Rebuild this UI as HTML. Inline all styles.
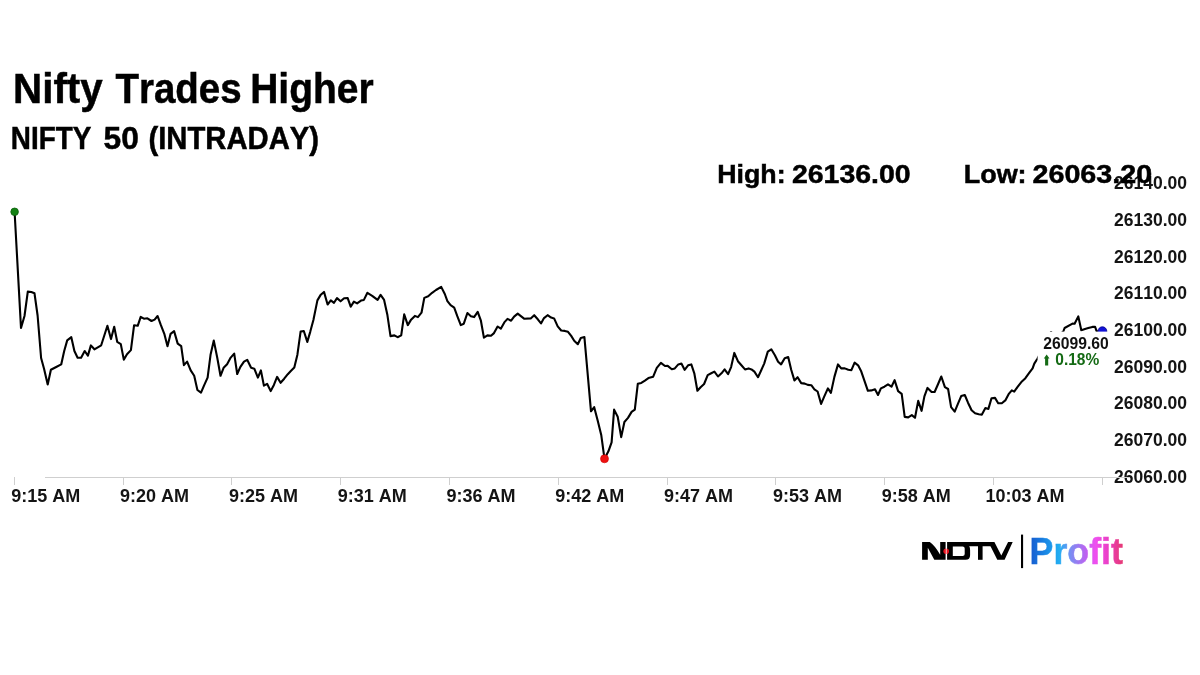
<!DOCTYPE html>
<html><head><meta charset="utf-8"><title>Nifty Trades Higher</title>
<style>html,body{margin:0;padding:0;background:#fff;width:1200px;height:675px;overflow:hidden;font-family:"Liberation Sans",sans-serif}svg{display:block;will-change:transform}text{font-kerning:none}</style>
</head><body>
<svg width="1200" height="675" viewBox="0 0 1200 675">
<rect width="1200" height="675" fill="#fff"/>
<text x="13.1" y="103.2" font-family="Liberation Sans" font-weight="bold" font-size="42" fill="#000" stroke="#000" stroke-width="0.5" textLength="89.61" lengthAdjust="spacingAndGlyphs">Nifty</text>
<text x="115.47" y="103.2" font-family="Liberation Sans" font-weight="bold" font-size="42" fill="#000" stroke="#000" stroke-width="0.5" textLength="126.11" lengthAdjust="spacingAndGlyphs">Trades</text>
<text x="250.19" y="103.2" font-family="Liberation Sans" font-weight="bold" font-size="42" fill="#000" stroke="#000" stroke-width="0.5" textLength="123.4" lengthAdjust="spacingAndGlyphs">Higher</text>
<text x="10.84" y="149" font-family="Liberation Sans" font-weight="bold" font-size="31.3" fill="#000" stroke="#000" stroke-width="0.5" textLength="80.41" lengthAdjust="spacingAndGlyphs">NIFTY</text>
<text x="103.52" y="149" font-family="Liberation Sans" font-weight="bold" font-size="31.3" fill="#000" stroke="#000" stroke-width="0.5" textLength="35.28" lengthAdjust="spacingAndGlyphs">50</text>
<text x="148.44" y="149" font-family="Liberation Sans" font-weight="bold" font-size="31.3" fill="#000" stroke="#000" stroke-width="0.5" textLength="170.61" lengthAdjust="spacingAndGlyphs">(INTRADAY)</text>
<text x="717.21" y="182.9" font-family="Liberation Sans" font-weight="bold" font-size="26.7" fill="#000" stroke="#000" stroke-width="0.5" textLength="68.36" lengthAdjust="spacingAndGlyphs">High:</text>
<text x="792.01" y="182.9" font-family="Liberation Sans" font-weight="bold" font-size="26.7" fill="#000" stroke="#000" stroke-width="0.5" textLength="118.55" lengthAdjust="spacingAndGlyphs">26136.00</text>
<line x1="14.5" y1="477" x2="14.5" y2="485" stroke="#cfcfcf" stroke-width="1"/>
<line x1="123.5" y1="477" x2="123.5" y2="485" stroke="#cfcfcf" stroke-width="1"/>
<line x1="231.5" y1="477" x2="231.5" y2="485" stroke="#cfcfcf" stroke-width="1"/>
<line x1="340.5" y1="477" x2="340.5" y2="485" stroke="#cfcfcf" stroke-width="1"/>
<line x1="449.5" y1="477" x2="449.5" y2="485" stroke="#cfcfcf" stroke-width="1"/>
<line x1="558.5" y1="477" x2="558.5" y2="485" stroke="#cfcfcf" stroke-width="1"/>
<line x1="667.5" y1="477" x2="667.5" y2="485" stroke="#cfcfcf" stroke-width="1"/>
<line x1="775.5" y1="477" x2="775.5" y2="485" stroke="#cfcfcf" stroke-width="1"/>
<line x1="884.5" y1="477" x2="884.5" y2="485" stroke="#cfcfcf" stroke-width="1"/>
<line x1="993.5" y1="477" x2="993.5" y2="485" stroke="#cfcfcf" stroke-width="1"/>
<line x1="1102.5" y1="477" x2="1102.5" y2="485" stroke="#cfcfcf" stroke-width="1"/>
<text x="45.8" text-anchor="middle" y="501.7" font-family="Liberation Sans" font-weight="bold" font-size="18" fill="#141414">9:15 AM</text>
<text x="154.6" text-anchor="middle" y="501.7" font-family="Liberation Sans" font-weight="bold" font-size="18" fill="#141414">9:20 AM</text>
<text x="263.4" text-anchor="middle" y="501.7" font-family="Liberation Sans" font-weight="bold" font-size="18" fill="#141414">9:25 AM</text>
<text x="372.2" text-anchor="middle" y="501.7" font-family="Liberation Sans" font-weight="bold" font-size="18" fill="#141414">9:31 AM</text>
<text x="481.0" text-anchor="middle" y="501.7" font-family="Liberation Sans" font-weight="bold" font-size="18" fill="#141414">9:36 AM</text>
<text x="589.8" text-anchor="middle" y="501.7" font-family="Liberation Sans" font-weight="bold" font-size="18" fill="#141414">9:42 AM</text>
<text x="698.6" text-anchor="middle" y="501.7" font-family="Liberation Sans" font-weight="bold" font-size="18" fill="#141414">9:47 AM</text>
<text x="807.4" text-anchor="middle" y="501.7" font-family="Liberation Sans" font-weight="bold" font-size="18" fill="#141414">9:53 AM</text>
<text x="916.2" text-anchor="middle" y="501.7" font-family="Liberation Sans" font-weight="bold" font-size="18" fill="#141414">9:58 AM</text>
<text x="1025.0" text-anchor="middle" y="501.7" font-family="Liberation Sans" font-weight="bold" font-size="18" fill="#141414">10:03 AM</text>
<text x="1187" y="189.3" text-anchor="end" font-family="Liberation Sans" font-weight="bold" font-size="17.5" fill="#141414">26140.00</text>
<text x="1187" y="226.3" text-anchor="end" font-family="Liberation Sans" font-weight="bold" font-size="17.5" fill="#141414">26130.00</text>
<text x="1187" y="262.8" text-anchor="end" font-family="Liberation Sans" font-weight="bold" font-size="17.5" fill="#141414">26120.00</text>
<text x="1187" y="299.3" text-anchor="end" font-family="Liberation Sans" font-weight="bold" font-size="17.5" fill="#141414">26110.00</text>
<text x="1187" y="336.1" text-anchor="end" font-family="Liberation Sans" font-weight="bold" font-size="17.5" fill="#141414">26100.00</text>
<text x="1187" y="372.8" text-anchor="end" font-family="Liberation Sans" font-weight="bold" font-size="17.5" fill="#141414">26090.00</text>
<text x="1187" y="409.3" text-anchor="end" font-family="Liberation Sans" font-weight="bold" font-size="17.5" fill="#141414">26080.00</text>
<text x="1187" y="445.8" text-anchor="end" font-family="Liberation Sans" font-weight="bold" font-size="17.5" fill="#141414">26070.00</text>
<text x="1187" y="482.8" text-anchor="end" font-family="Liberation Sans" font-weight="bold" font-size="17.5" fill="#141414">26060.00</text>
<text x="963.7" y="183" font-family="Liberation Sans" font-weight="bold" font-size="26.7" fill="#000" stroke="#000" stroke-width="0.5" textLength="62.9" lengthAdjust="spacingAndGlyphs">Low:</text>
<text x="1032.51" y="183" font-family="Liberation Sans" font-weight="bold" font-size="26.7" fill="#000" stroke="#000" stroke-width="0.5" textLength="119.67" lengthAdjust="spacingAndGlyphs">26063.20</text>
<line x1="45" y1="477.5" x2="1130" y2="477.5" stroke="#cfcfcf" stroke-width="1"/>
<path d="M14.6,212.0 L21.0,328.0 L24.5,316.0 L27.8,291.6 L31.3,292.0 L34.5,293.3 L37.6,315.5 L41.1,358.0 L44.1,369.0 L47.7,384.5 L50.9,369.8 L56.2,367.0 L61.2,364.4 L64.2,351.0 L67.2,340.4 L71.3,337.2 L74.4,351.0 L77.6,357.7 L81.1,357.7 L84.7,351.0 L87.9,355.6 L90.9,345.4 L94.4,349.3 L101.2,345.3 L107.4,325.8 L111.0,339.1 L114.2,326.7 L117.2,341.8 L120.8,344.1 L123.8,359.6 L127.0,354.2 L130.9,350.1 L134.1,325.2 L137.7,325.8 L140.7,316.9 L143.9,318.7 L147.4,318.3 L151.5,321.0 L154.6,319.6 L157.6,316.0 L160.8,324.9 L164.3,333.8 L167.5,346.2 L170.6,333.8 L174.1,331.1 L177.7,343.6 L181.2,346.2 L183.9,365.1 L187.1,361.6 L190.7,370.4 L194.2,375.8 L197.4,390.0 L201.0,392.7 L204.0,385.6 L207.6,377.6 L210.6,354.4 L213.8,340.6 L217.3,358.0 L220.5,375.8 L223.6,367.8 L227.1,364.2 L230.7,357.6 L234.2,353.6 L237.2,374.0 L240.4,366.9 L244.0,361.6 L247.2,359.8 L251.1,367.8 L254.3,368.7 L257.9,377.6 L260.9,370.4 L263.9,385.6 L267.1,383.8 L270.7,391.1 L273.9,384.9 L277.1,376.9 L280.6,382.8 L284.2,378.7 L287.8,374.2 L290.8,371.0 L294.3,367.5 L297.4,354.7 L300.6,331.6 L303.8,331.0 L307.3,341.9 L310.3,331.6 L313.4,320.0 L317.4,300.4 L320.5,295.1 L324.0,291.9 L327.6,304.5 L330.8,300.4 L334.0,302.8 L337.0,298.1 L340.6,301.3 L344.1,298.3 L347.7,298.1 L350.7,306.7 L353.9,301.6 L357.1,303.4 L361.0,300.6 L363.9,299.9 L367.4,292.8 L372.2,295.8 L377.6,299.9 L380.6,294.9 L384.1,299.9 L387.3,314.4 L390.5,336.1 L394.4,335.4 L397.6,337.2 L401.2,335.4 L404.2,314.4 L407.8,325.1 L410.8,320.1 L414.9,315.9 L417.9,317.1 L421.5,312.7 L424.3,297.9 L428.2,296.3 L432.1,292.8 L436.0,290.0 L441.2,286.9 L444.8,294.0 L447.4,301.1 L450.6,305.2 L454.2,307.7 L457.2,315.9 L460.8,325.1 L463.8,323.7 L467.4,313.0 L470.9,316.2 L474.1,317.1 L477.7,311.8 L480.9,320.7 L483.9,337.6 L487.4,335.4 L491.0,335.8 L494.0,333.1 L497.6,326.5 L500.8,328.7 L504.3,322.4 L507.5,318.9 L511.1,320.7 L514.1,316.6 L517.7,313.6 L524.4,318.8 L530.7,318.4 L534.2,315.2 L537.8,319.3 L541.0,323.4 L544.0,318.1 L547.6,315.2 L551.1,317.6 L554.1,318.4 L557.7,326.4 L561.2,330.5 L564.8,330.9 L568.0,331.8 L571.2,335.9 L574.2,340.7 L577.8,344.2 L580.8,338.0 L584.4,337.1 L591.0,411.3 L594.2,407.2 L597.8,421.1 L601.3,435.3 L604.5,458.8 L608.4,451.3 L611.6,442.4 L614.1,409.6 L617.7,416.7 L621.2,437.1 L624.4,422.0 L628.0,417.9 L631.6,411.9 L634.8,409.6 L637.8,383.8 L641.3,382.9 L644.9,380.6 L648.4,378.1 L653.2,376.7 L656.8,367.8 L660.9,362.8 L665.0,366.0 L667.7,365.9 L671.8,369.2 L674.8,368.4 L678.3,364.4 L681.4,363.6 L684.6,369.8 L688.1,365.3 L691.3,364.4 L694.3,373.3 L697.4,390.8 L700.6,387.2 L704.1,384.0 L707.7,375.1 L711.2,373.3 L714.4,371.6 L718.0,376.5 L721.5,373.3 L724.6,369.4 L728.1,374.2 L731.1,367.1 L734.3,352.9 L737.9,361.2 L741.4,365.3 L745.0,369.4 L748.6,368.4 L752.1,369.8 L754.4,371.6 L758.0,377.2 L761.0,370.7 L764.2,363.6 L767.8,351.6 L771.3,349.3 L774.9,355.2 L778.1,361.8 L781.1,364.4 L784.7,358.2 L788.2,357.0 L791.2,369.8 L794.4,380.4 L797.6,377.2 L801.2,383.1 L804.8,383.6 L807.8,384.9 L811.3,385.2 L814.4,389.3 L817.6,391.5 L821.1,403.9 L824.3,396.4 L827.9,388.4 L830.9,392.9 L834.4,376.9 L838.0,364.4 L841.2,368.4 L844.8,368.4 L848.3,369.8 L851.4,370.1 L854.6,362.7 L858.1,365.3 L861.3,371.6 L864.3,380.4 L867.9,390.8 L871.4,390.4 L875.0,389.3 L878.0,395.0 L880.9,388.4 L884.4,386.7 L888.0,384.4 L891.5,386.7 L894.6,380.1 L898.1,391.1 L901.7,393.8 L904.7,416.9 L908.2,417.4 L911.8,415.1 L915.0,417.8 L918.2,400.9 L921.6,410.8 L924.4,396.4 L927.5,387.9 L931.6,392.0 L934.6,392.0 L938.1,384.0 L941.3,376.5 L944.9,387.2 L948.1,389.0 L951.1,407.1 L954.7,411.6 L958.2,403.2 L961.2,396.1 L964.8,395.0 L968.0,402.7 L971.6,410.3 L975.1,413.3 L978.7,414.2 L981.9,414.6 L985.4,408.0 L988.4,408.9 L991.5,398.2 L995.0,397.9 L998.2,403.2 L1001.8,403.2 L1005.3,400.4 L1008.6,394.2 L1011.8,390.3 L1014.2,391.6 L1017.4,387.1 L1021.9,381.4 L1025.4,378.2 L1029.0,373.2 L1032.6,368.4 L1034.3,363.6 L1037.4,358.7 L1041.0,352.0 L1045.0,345.0 L1048.0,339.0 L1051.0,332.0 L1055.0,336.0 L1060.0,334.0 L1063.3,331.5 L1064.6,328.0 L1072.5,323.6 L1074.6,323.8 L1078.3,316.4 L1081.3,330.2 L1085.0,329.1 L1088.3,328.1 L1092.4,326.9 L1095.1,326.9 L1096.6,331.2 L1102.4,331.2" fill="none" stroke="#000" stroke-width="2.1" stroke-linejoin="round" stroke-linecap="butt"/>
<circle cx="14.6" cy="211.8" r="3.8" fill="#148214" stroke="#0b5e0b" stroke-width="0.8"/>
<circle cx="604.5" cy="458.8" r="4.0" fill="#ee1111" stroke="#c00" stroke-width="0.6"/>
<circle cx="1102.4" cy="331.2" r="4.4" fill="#1212d8" stroke="#000088" stroke-width="0.8"/>
<rect x="1037.6" y="331.6" width="74" height="36" fill="#fff"/>
<text x="1043.36" y="348.7" font-family="Liberation Sans" font-weight="bold" font-size="16" fill="#111" textLength="65.39" lengthAdjust="spacingAndGlyphs">26099.60</text>
<path d="M1046.65,354.5 L1049.5,358.4 L1048.2,358.4 L1048.2,365.6 L1045.1,365.6 L1045.1,358.4 L1043.8,358.4 Z" fill="#146a14"/>
<text x="1055.29" y="365.1" font-family="Liberation Sans" font-weight="bold" font-size="16.2" fill="#146a14" textLength="43.92" lengthAdjust="spacingAndGlyphs">0.18%</text>
<path fill="#000" d="M922.1,542.1 L929.8,542.1 Q934.5,545.2 940.2,554.8 L940.2,542.1 L945.7,542.1 L945.7,559.8 L934.3,559.8 L927.8,547.7 L927.8,559.8 L922.1,559.8 Z"/>
<path fill="#000" fill-rule="evenodd" d="M947.1,542.1 L991,542.1 L991,546.3 L969.2,546.3 Q970.1,547.5 970.1,550 L970.1,555.2 Q970.1,559.8 965.5,559.8 L947.1,559.8 Z M952.8,546.4 L962.6,546.4 Q964.7,546.4 964.7,548.5 L964.7,553.9 Q964.7,556 962.6,556 L952.8,556 Z"/>
<path fill="#000" d="M978,546 L982.6,546 L982.6,559.8 L978,559.8 Z"/>
<path fill="#000" d="M988.4,542.1 L994.4,542.1 L1001.3,555.4 L1008.1,542.1 L1012.7,542.1 L1004.6,559.8 L997.3,559.8 Z"/>
<circle cx="946.2" cy="551.2" r="2.8" fill="#e8121e"/>
<rect x="945.8" y="542" width="0.9" height="18" fill="#fff" opacity="0.8"/>
<rect x="1021" y="534.6" width="2.1" height="33.5" fill="#000"/>
<defs><linearGradient id="pg" gradientUnits="userSpaceOnUse" x1="1032" x2="1123" y1="0" y2="0"><stop offset="0" stop-color="#1760d2"/><stop offset="0.16" stop-color="#1a8ae6"/><stop offset="0.3" stop-color="#22aef2"/><stop offset="0.43" stop-color="#7d8cf2"/><stop offset="0.6" stop-color="#c060f0"/><stop offset="0.7" stop-color="#f04ff0"/><stop offset="0.83" stop-color="#ea40c6"/><stop offset="1" stop-color="#e63872"/></linearGradient></defs>
<text x="1029.61" y="563.9" font-family="Liberation Sans" font-weight="bold" font-size="36.8" fill="url(#pg)" stroke="url(#pg)" stroke-width="0.5" textLength="93.33" lengthAdjust="spacingAndGlyphs">Profit</text>
</svg>
</body></html>
